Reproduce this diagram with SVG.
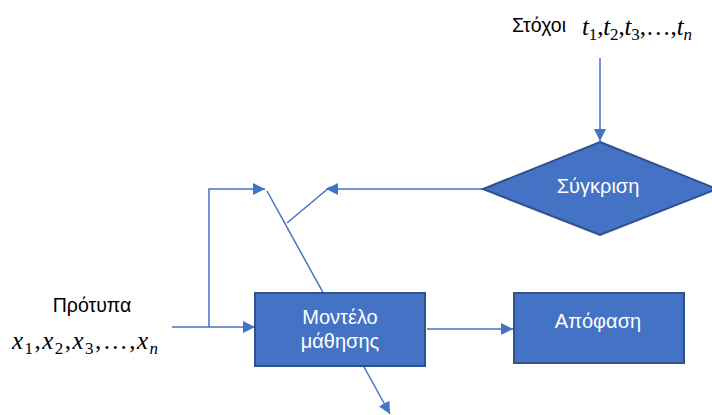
<svg xmlns="http://www.w3.org/2000/svg" width="712" height="415" viewBox="0 0 712 415">
<style>
.box{fill:#4472C4;stroke:#2F528F;stroke-width:2}
.lbl{font-family:"Liberation Sans","DejaVu Sans",sans-serif;font-size:20px;fill:#fff;text-anchor:middle}
.txt{font-family:"Liberation Sans","DejaVu Sans",sans-serif;font-size:19.5px;fill:#000}
.math{font-family:"Liberation Serif","DejaVu Serif",serif;font-size:25px;fill:#000}
.math tspan.i{font-style:italic}
.ln{stroke:#4472C4;stroke-width:1.5;fill:none}
</style>
<defs>
<marker id="ahb" viewBox="0 0 10 10" refX="10" refY="5" markerWidth="12" markerHeight="12" markerUnits="userSpaceOnUse" orient="auto">
<path d="M0,0 L10,5 L0,10 z" fill="#4472C4"/>
</marker>
</defs>
<rect width="712" height="415" fill="#fff"/>
<g id="connectors">
<line class="ln" x1="267" y1="191" x2="390" y2="414" marker-end="url(#ahb)"/>
<line class="ln" x1="600" y1="58" x2="600" y2="141" marker-end="url(#ahb)"/>
<line class="ln" x1="483" y1="189" x2="326" y2="189" marker-end="url(#ahb)"/>
<line class="ln" x1="287" y1="223" x2="330" y2="187"/>
<line class="ln" x1="172" y1="327" x2="255" y2="327" marker-end="url(#ahb)"/>
<polyline class="ln" points="209,327 209,189 265,189" marker-end="url(#ahb)"/>
<line class="ln" x1="427" y1="329" x2="513" y2="329" marker-end="url(#ahb)"/>
</g>
<g id="model">
<rect class="box" x="255" y="293" width="170" height="73"/>
<text class="lbl" x="340" y="324">Μοντέλο</text>
<text class="lbl" x="340" y="348">μάθησης</text>
</g>
<g id="decision">
<rect class="box" x="514" y="293" width="170" height="70"/>
<text class="lbl" x="598" y="328">Απόφαση</text>
</g>
<g id="compare">
<polygon class="box" points="600,142 717,189 600,235 483,189"/>
<text class="lbl" x="598" y="193">Σύγκριση</text>
</g>
<g id="targets">
<text class="txt" x="512" y="32">Στόχοι</text>
<text class="math" x="582" y="35" textLength="110" lengthAdjust="spacing"><tspan class="i">t</tspan><tspan font-size="17" dy="5">1</tspan><tspan dy="-5">,</tspan><tspan class="i">t</tspan><tspan font-size="17" dy="5">2</tspan><tspan dy="-5">,</tspan><tspan class="i">t</tspan><tspan font-size="17" dy="5">3</tspan><tspan dy="-5">,…,</tspan><tspan class="i">t</tspan><tspan class="i" font-size="17" dy="5">n</tspan></text>
</g>
<g id="patterns">
<text class="txt" x="92" y="312" text-anchor="middle">Πρότυπα</text>
<text class="math" x="12" y="349" textLength="146" lengthAdjust="spacing"><tspan class="i">x</tspan><tspan font-size="17" dy="5">1</tspan><tspan dy="-5">,</tspan><tspan class="i">x</tspan><tspan font-size="17" dy="5">2</tspan><tspan dy="-5">,</tspan><tspan class="i">x</tspan><tspan font-size="17" dy="5">3</tspan><tspan dy="-5">,…,</tspan><tspan class="i">x</tspan><tspan class="i" font-size="17" dy="5">n</tspan></text>
</g>
</svg>
